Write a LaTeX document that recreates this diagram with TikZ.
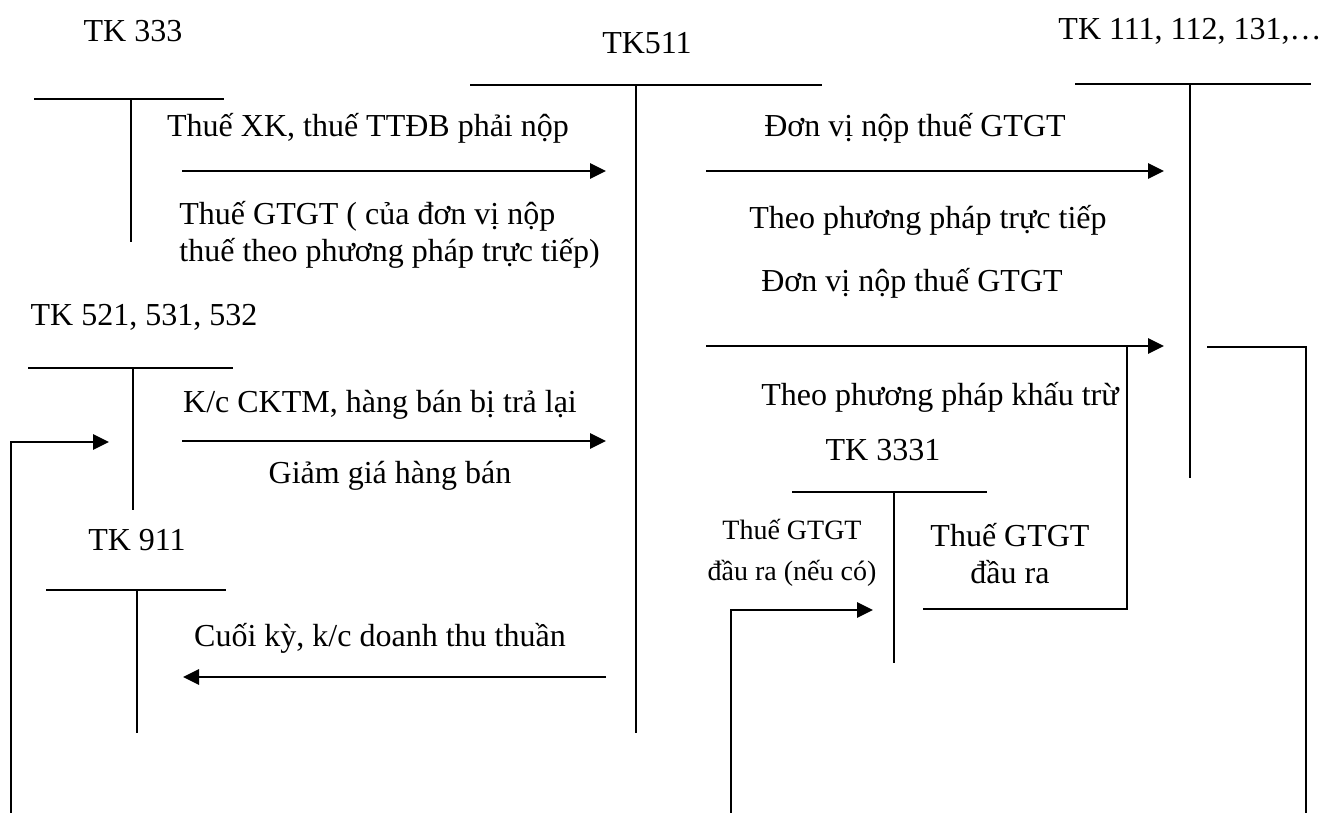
\documentclass[tikz,border=0pt]{standalone}
\usepackage{fontspec}
\setmainfont{Liberation Serif}
\usepackage{tikz}
\usetikzlibrary{arrows.meta}
\tikzstyle{Account}=[draw,line width=1pt]
\tikzstyle{Link}=[draw,line width=1pt]
\tikzstyle{Map}=[draw,line width=1.4pt,-{Triangle[length=8pt,width=7.5pt]}]
\tikzstyle{Title}=[font=\fontsize{16}{17.5}\selectfont,inner sep=0pt]
\tikzstyle{Text}=[font=\fontsize{16}{18.5}\selectfont,inner sep=0pt]
\tikzstyle{Small}=[font=\fontsize{14}{20.5}\selectfont,inner sep=0pt]

\begin{document}
\begin{tikzpicture}[x=0.5pt,y=-0.5pt]
        \useasboundingbox(0,0)rectangle(1324,813);
        % account titles
        \node[Title](T333)at(133,31){TK 333};
        \node[Title](T511)at(647,43){TK511};
        \node[Title](T111)at(1190,31){TK 111, 112, 131,…};
        \node[Title](T521)at(144,317){TK 521, 531, 532};
        \node[Title](T911)at(137,540){TK 911};
        \node[Title](T3331)at(883,450){TK 3331};
        % T accounts
        \draw[Account](34,99)--(224,99)(131,99)--(131,242);
        \draw[Account](470,85)--(822,85)(636,85)--(636,733);
        \draw[Account](1075,84)--(1311,84)(1190,84)--(1190,478);
        \draw[Account](28,368)--(233,368)(133,368)--(133,510);
        \draw[Account](46,590)--(226,590)(137,590)--(137,733);
        \draw[Account](792,492)--(987,492)(894,492)--(894,663);
        % arrow ends
        \coordinate(A1s)at(182,171);\coordinate(A1e)at(606,171);
        \coordinate(A2s)at(706,171);\coordinate(A2e)at(1164,171);
        \coordinate(A3s)at(706,346);\coordinate(A3e)at(1164,346);
        \coordinate(A4s)at(182,441);\coordinate(A4e)at(606,441);
        \coordinate(A5s)at(606,677);\coordinate(A5e)at(183,677);
        \coordinate(L1s)at(11,813);\coordinate(L1e)at(109,442);
        \coordinate(L2s)at(731,813);\coordinate(L2e)at(873,610);
        \coordinate(R1s)at(1207,347);\coordinate(R1e)at(1306,813);
        \coordinate(R2s)at(1127,346);\coordinate(R2e)at(923,609);
        % entries
        \draw[Map](A1s)--(A1e);
        \draw[Map](A2s)--(A2e);
        \draw[Map](A3s)--(A3e);
        \draw[Map](A4s)--(A4e);
        \draw[Map](A5s)--(A5e);
        \draw[Map](L1s)|-(L1e);
        \draw[Map](L2s)|-(L2e);
        \draw[Link](R1s)-|(R1e);
        \draw[Link](R2s)|-(R2e);
        % labels
        \node[Text](XK)at(368,128){Thuế XK, thuế TTĐB phải nộp};
        \node[Text,align=left,anchor=west](GT)at(179,235)
            {Thuế GTGT ( của đơn vị nộp\\thuế theo phương pháp trực tiếp)};
        \node[Text](DV1)at(915,128){Đơn vị nộp thuế GTGT};
        \node[Text](TT)at(928,220){Theo phương pháp trực tiếp};
        \node[Text](DV2)at(912,283){Đơn vị nộp thuế GTGT};
        \node[Text](KT)at(940,397){Theo phương pháp khấu trừ};
        \node[Text](CK)at(380,405){K/c CKTM, hàng bán bị trả lại};
        \node[Text](GG)at(390,476){Giảm giá hàng bán};
        \node[Text](DT)at(380,638){Cuối kỳ, k/c doanh thu thuần};
        \node[Small,align=center](RA1)at(792,553){Thuế GTGT\\đầu ra (nếu có)};
        \node[Text,align=center](RA2)at(1010,554){Thuế GTGT\\đầu ra};
    \end{tikzpicture}
\end{document}
